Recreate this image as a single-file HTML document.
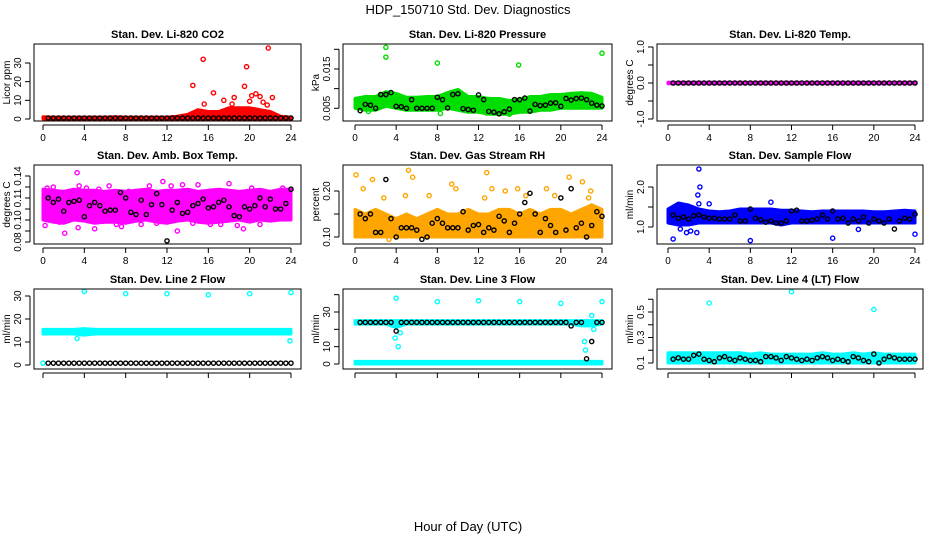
<!DOCTYPE html>
<html><head><meta charset="utf-8"><style>
body{margin:0;background:#fff}
svg{display:block;font-family:"Liberation Sans",sans-serif}
</style></head><body>
<svg id="c" width="936" height="540" xmlns="http://www.w3.org/2000/svg">
<rect width="936" height="540" fill="#fff"/>
<text x="468" y="14" text-anchor="middle" font-size="13">HDP_150710  Std. Dev. Diagnostics</text>
<text x="468" y="531" text-anchor="middle" font-size="13">Hour of Day (UTC)</text>
</svg>
<script>
const bandHours=[0,1,2,3,4,5,6,7,8,9,10,11,12,13,14,15,16,17,18,19,20,21,22,23,24];
const blackHours=[0.5,1,1.5,2,2.5,3,3.5,4,4.5,5,5.5,6,6.5,7,7.5,8,8.5,9,9.5,10,10.5,11,11.5,12,12.5,13,13.5,14,14.5,15,15.5,16,16.5,17,17.5,18,18.5,19,19.5,20,20.5,21,21.5,22,22.5,23,23.5,24];
// CO2
const co2Lo=[0,0,0,0,0,0,0,0,0,0,0,0,0,0,0,0,0,0,0,0,0,0,0,0,0];
const co2Hi=[1.2,1,1,1,1,1,1,1.2,1,1,1,1,1,1.5,2.5,5,4,4,6,6,6,5,4,1.5,1];
const co2OutX=[14.5,15.5,15.6,16.5,17.5,18.3,18.5,19.5,19.7,20,20.2,20.6,21,21.3,21.7,21.8,22.2];
const co2OutY=[18,32,8,14,10,8,11.5,17.5,28,9.5,12.5,13.5,12,9,7.5,38,11.5];
const co2Black=[0.5,0.5,0.5,0.5,0.5,0.5,0.5,0.5,0.5,0.5,0.5,0.5,0.5,0.5,0.5,0.5,0.5,0.5,0.5,0.5,0.5,0.5,0.5,0.5,0.5,0.5,0.5,0.5,0.5,0.5,0.5,0.5,0.5,0.5,0.5,0.5,0.5,0.5,0.5,0.5,0.5,0.5,0.5,0.5,0.5,0.5,0.5,0.5];
// Pressure
const prLo=[.005,.0045,.0045,.0055,.005,.0045,.0045,.0045,.0045,.005,.0045,.004,.004,.0035,.0035,.0035,.004,.004,.0045,.0045,.005,.005,.005,.005,.005];
const prHi=[.0075,.008,.008,.0092,.0088,.0078,.0078,.008,.008,.009,.0098,.008,.008,.0075,.0075,.007,.0072,.008,.008,.0085,.0085,.0088,.009,.0088,.0078];
const prOutX=[3,3,8,15.9,24,8.3,15,1.3,12.8];
const prOutY=[.0205,.018,.0165,.016,.019,.0037,.0035,.0042,.0038];
const prBlack=[.0044,.006,.0058,.005,.0085,.0085,.009,.0055,.0054,.005,.0072,.005,.005,.005,.005,.0078,.0072,.0051,.0085,.0087,.0049,.0047,.0045,.0084,.0072,.0042,.004,.0036,.0041,.0048,.0072,.0072,.0076,.0043,.006,.0057,.0058,.0063,.0064,.0055,.0075,.0071,.0075,.0076,.0072,.0063,.0058,.0056];
// Li-820 temp
const tLo=[-.02,-.02,-.02,-.02,-.02,-.02,-.02,-.02,-.02,-.02,-.02,-.02,-.02,-.02,-.02,-.02,-.02,-.02,-.02,-.02,-.02,-.02,-.02,-.02,-.02];
const tHi=[.02,.02,.02,.02,.02,.02,.02,.02,.02,.02,.02,.02,.02,.02,.02,.02,.02,.02,.02,.02,.02,.02,.02,.02,.02];
const tBlack=blackHours.map(()=>0);
// Amb box
const abLo=[.1,.098,.097,.1,.099,.097,.098,.098,.097,.099,.1,.098,.097,.099,.1,.098,.097,.098,.099,.1,.098,.1,.099,.1,.1];
const abHi=[.128,.127,.126,.128,.127,.127,.126,.127,.126,.127,.128,.126,.127,.127,.128,.126,.127,.128,.127,.126,.127,.128,.126,.128,.128];
const abOutX=[.2,.4,1,1.6,2.1,2.5,3.3,3.5,3.4,4.2,5,5.4,6.4,7.1,7.6,8.3,9.5,10.3,11,11.6,12.4,13,13.5,14.5,15,16.2,17.2,18,18.8,19.4,20.2,21,22.5,23.2];
const abOutY=[.095,.129,.130,.098,.088,.124,.143,.131,.093,.129,.092,.128,.131,.096,.094,.126,.096,.131,.097,.135,.131,.09,.132,.097,.132,.096,.096,.133,.095,.092,.129,.096,.125,.129];
const abBlack=[.12,.116,.119,.108,.116,.117,.118,.103,.113,.116,.113,.108,.109,.109,.125,.12,.107,.105,.118,.105,.114,.124,.114,.081,.109,.116,.106,.107,.113,.115,.119,.111,.112,.116,.118,.112,.104,.103,.112,.11,.113,.12,.112,.119,.11,.11,.115,.128];
// Gas RH
const rhLo=[.1,.1,.1,.1,.1,.1,.1,.1,.1,.1,.1,.1,.1,.1,.1,.1,.1,.1,.1,.1,.1,.1,.1,.1,.1];
const rhHi=[.16,.15,.16,.15,.14,.15,.14,.15,.16,.15,.15,.16,.15,.15,.16,.16,.15,.16,.15,.16,.16,.15,.16,.17,.16];
const rhOutX=[.1,.8,1.7,2.8,3.3,5.2,5.6,4.9,7.2,9.4,9.8,12.8,12.6,13.3,14.6,15.8,16.6,18.6,19.4,20.8,22.1,22.7,22.9];
const rhOutY=[.235,.205,.225,.185,.095,.245,.23,.19,.19,.215,.205,.24,.185,.205,.2,.205,.19,.205,.19,.23,.22,.185,.2];
const rhBlack=[.15,.14,.15,.11,.11,.225,.14,.1,.12,.12,.12,.115,.095,.1,.13,.14,.13,.12,.12,.12,.155,.115,.125,.127,.11,.12,.115,.145,.135,.11,.13,.15,.175,.195,.15,.11,.14,.125,.11,.185,.115,.205,.12,.13,.1,.125,.155,.145];
// Sample flow
const sfLo=[1.1,1.05,1.05,1.1,1.1,1.1,1.1,1.1,1.1,1.1,1.1,1.05,1.1,1.1,1.1,1.1,1.1,1.1,1.1,1.1,1.1,1.1,1.1,1.1,1.1];
const sfHi=[1.45,1.6,1.55,1.45,1.4,1.38,1.4,1.45,1.45,1.45,1.45,1.42,1.42,1.4,1.38,1.4,1.4,1.4,1.4,1.4,1.38,1.38,1.4,1.42,1.4];
const sfOutX=[3,3.1,2.9,3,4,10,0.5,8,16,24,1.8,2.8,18.5,1.2,2.2];
const sfOutY=[2.45,2,1.8,1.58,1.58,1.62,0.7,0.66,0.72,0.82,0.86,0.86,0.94,0.95,0.9];
const sfBlack=[1.3,1.22,1.25,1.2,1.28,1.3,1.25,1.22,1.22,1.2,1.2,1.2,1.3,1.15,1.15,1.45,1.22,1.18,1.12,1.15,1.1,1.1,1.15,1.4,1.42,1.15,1.15,1.17,1.2,1.3,1.2,1.4,1.2,1.22,1.1,1.2,1.15,1.25,1.1,1.2,1.15,1.1,1.2,0.95,1.15,1.22,1.2,1.32];
// Line 2
const l2Lo=[13.5,13.5,13.5,13.5,13,13.5,13.5,13.5,13.5,13.5,13.5,13.5,13.5,13.5,13.5,13.5,13.5,13.5,13.5,13.5,13.5,13.5,13.5,13.5,13.5];
const l2Hi=[15.5,15.5,15.5,15.5,15.8,15.5,15.5,15.5,15.5,15.5,15.5,15.5,15.5,15.5,15.5,15.5,15.5,15.5,15.5,15.5,15.5,15.5,15.5,15.5,15.5];
const l2OutX=[4,8,12,16,20,24,3.3,23.9,0];
const l2OutY=[32,31,31,30.5,31,31.5,11.5,10.5,0.8];
const l2Black=blackHours.map(()=>0.8);
// Line 3
const l3Lo=[0,0,0,0,0,0,0,0,0,0,0,0,0,0,0,0,0,0,0,0,0,0,0,0,0];
const l3Hi=[1.5,1.5,1.5,1.5,1.5,1.5,1.5,1.5,1.5,1.5,1.5,1.5,1.5,1.5,1.5,1.5,1.5,1.5,1.5,1.5,1.5,1.5,1.5,1.5,1.5];
const l3Lo2=[23,23,23,23,21,23,23,23,23,23,23,23,23,23,23,23,23,23,23,23,23,23,22,22,23];
const l3Hi2=[25,25,25,25,25,25,25,25,25,25,25,25,25,25,25,25,25,25,25,25,25,25,25,25,25];
const l3OutX=[4,8,12,16,20,24,3.9,4.2,22.3,22.4,23,23.2,4.4];
const l3OutY=[38,36,36.5,36,35,36,15,10,13,8,28,20,18];
const l3Black=[24,24,24,24,24,24,24,19,24,24,24,24,24,24,24,24,24,24,24,24,24,24,24,24,24,24,24,24,24,24,24,24,24,24,24,24,24,24,24,24,24,22,24,24,3,13,24,24];
// Line 4
const l4Lo=[.1,.1,.1,.1,.1,.1,.1,.1,.1,.1,.1,.1,.1,.1,.1,.1,.1,.1,.1,.1,.1,.1,.1,.1,.1];
const l4Hi=[.18,.18,.18,.18,.18,.18,.18,.18,.17,.18,.17,.17,.17,.17,.17,.18,.17,.17,.18,.17,.18,.17,.17,.17,.17];
const l4OutX=[4,12,20];
const l4OutY=[.57,.66,.52];
const l4Black=[.13,.14,.13,.13,.16,.17,.13,.12,.11,.14,.15,.13,.12,.14,.13,.12,.12,.11,.15,.15,.14,.12,.15,.14,.13,.12,.13,.12,.14,.15,.14,.12,.13,.12,.11,.15,.14,.12,.11,.17,.1,.13,.15,.14,.13,.13,.13,.13];

const NS="http://www.w3.org/2000/svg";
const svg=document.getElementById('c');
function mk(tag,at,parent){const e=document.createElementNS(NS,tag);for(const k in at)e.setAttribute(k,at[k]);(parent||svg).appendChild(e);return e;}
const cols=[{l:34,r:301,x0:43,x1:291},{l:343,r:612,x0:355,x1:602},{l:657,r:923,x0:668,x1:915}];
const rows=[{t:44,b:121},{t:165,b:244},{t:289,b:369}];

function panel(ci,ri,title,ylab,ymin,ymax,yminPx,ymaxPx,ticks,labels,color,bands,outX,outY,black,name,showX){
  const c=cols[ci],r=rows[ri];
  const g=mk('g',{});
  
  
  const X=h=>c.x0+(c.x1-c.x0)*h/24;
  const Y=v=>yminPx+(ymaxPx-yminPx)*(v-ymin)/(ymax-ymin);
  const tt=mk('text',{x:(c.l+c.r)/2,y:r.t-6,'text-anchor':'middle','font-size':11,'font-weight':'bold'},g);tt.textContent=title;
  
  
  bands.forEach(([lo,hi])=>{
    let pts=bandHours.map((h,i)=>X(h)+','+Y(hi[i]));
    pts=pts.concat(bandHours.slice().reverse().map((h,j)=>X(h)+','+Y(lo[bandHours.length-1-j])));
    const p=mk('polygon',{points:pts.join(' '),fill:color,stroke:color,'stroke-width':3,'stroke-linejoin':'round'},g);
    
    
  });
  outX.forEach((h,i)=>{
    const e=mk('circle',{cx:X(h),cy:Y(outY[i]),r:2.1,fill:'none',stroke:color,'stroke-width':1.4},g);
    
    
  });
  black.forEach((v,i)=>{
    const e=mk('circle',{cx:X(blackHours[i]),cy:Y(v),r:2.1,fill:'none',stroke:'#000','stroke-width':1.4},g);
    
    
  });
  mk('rect',{x:c.l,y:r.t,width:c.r-c.l,height:r.b-r.t,fill:'none',stroke:'#000','stroke-width':1},g);
  for(let h=0;h<=24;h+=4){
    mk('line',{x1:X(h),x2:X(h),y1:r.b+4,y2:r.b+9,stroke:'#000'},g);
    if(showX){const t=mk('text',{x:X(h),y:r.b+20,'text-anchor':'middle','font-size':10},g);t.textContent=h;
      
      }
  }
  mk('line',{x1:X(0),x2:X(24),y1:r.b+4,y2:r.b+4,stroke:'#000'},g);
  const ya=ticks.map(Y);
  mk('line',{x1:c.l-4,x2:c.l-4,y1:Math.min(...ya),y2:Math.max(...ya),stroke:'#000'},g);
  ticks.forEach((v,i)=>{
    mk('line',{x1:c.l-9,x2:c.l-4,y1:Y(v),y2:Y(v),stroke:'#000'},g);
    if(labels[i]){const t=mk('text',{x:c.l-13,y:Y(v),'text-anchor':'middle','font-size':10,transform:`rotate(-90 ${c.l-13} ${Y(v)})`},g);t.textContent=labels[i];
      
      }
  });
  const yl=mk('text',{x:c.l-24,y:(r.t+r.b)/2,'text-anchor':'middle','font-size':10,transform:`rotate(-90 ${c.l-24} ${(r.t+r.b)/2})`},g);yl.textContent=ylab;
  
  
}
panel(0,0,'Stan. Dev. Li-820 CO2','Licor ppm',0,30,119,63,[0,10,20,30],['0','10','20','30'],'#ff0000',[[co2Lo,co2Hi]],co2OutX,co2OutY,co2Black,'co2-panel',true);
panel(1,0,'Stan. Dev. Li-820 Pressure','kPa',.005,.02,108.3,49.3,[.005,.01,.015,.02],['0.005','','0.015',''],'#00dd00',[[prLo,prHi]],prOutX,prOutY,prBlack,'pressure-panel',true);
panel(2,0,'Stan. Dev. Li-820 Temp.','degrees C',-1,1,119,47,[-1,-.5,0,.5,1],['-1.0','','0.0','','1.0'],'#ff00ff',[[tLo,tHi]],[],[],tBlack,'temp-panel',true);
panel(0,1,'Stan. Dev. Amb. Box Temp.','degrees C',.08,.14,242,176,[.08,.09,.1,.11,.12,.13,.14],['0.08','','0.10','','0.11','','0.14'],'#ff00ff',[[abLo,abHi]],abOutX,abOutY,abBlack,'amb-box-panel',true);
panel(1,1,'Stan. Dev. Gas Stream RH','percent',.1,.2,237,191,[.1,.15,.2],['0.10','','0.20'],'#ffa500',[[rhLo,rhHi]],rhOutX,rhOutY,rhBlack,'gas-rh-panel',true);
panel(2,1,'Stan. Dev. Sample Flow','ml/min',1,2,227,187,[1,1.5,2],['1.0','','2.0'],'#0000ff',[[sfLo,sfHi]],sfOutX,sfOutY,sfBlack,'sample-flow-panel',true);
panel(0,2,'Stan. Dev. Line 2 Flow','ml/min',0,30,365,296,[0,10,20,30],['0','10','20','30'],'#00ffff',[[l2Lo,l2Hi]],l2OutX,l2OutY,l2Black,'line2-panel',false);
panel(1,2,'Stan. Dev. Line 3 Flow','ml/min',0,30,364,312,[0,10,20,30,40],['0','10','','30',''],'#00ffff',[[l3Lo,l3Hi],[l3Lo2,l3Hi2]],l3OutX,l3OutY,l3Black,'line3-panel',false);
panel(2,2,'Stan. Dev. Line 4 (LT) Flow','ml/min',.1,.5,363,312,[.1,.2,.3,.4,.5,.6],['0.1','','0.3','','0.5',''],'#00ffff',[[l4Lo,l4Hi]],l4OutX,l4OutY,l4Black,'line4-panel',false);
</script>
</body></html>
